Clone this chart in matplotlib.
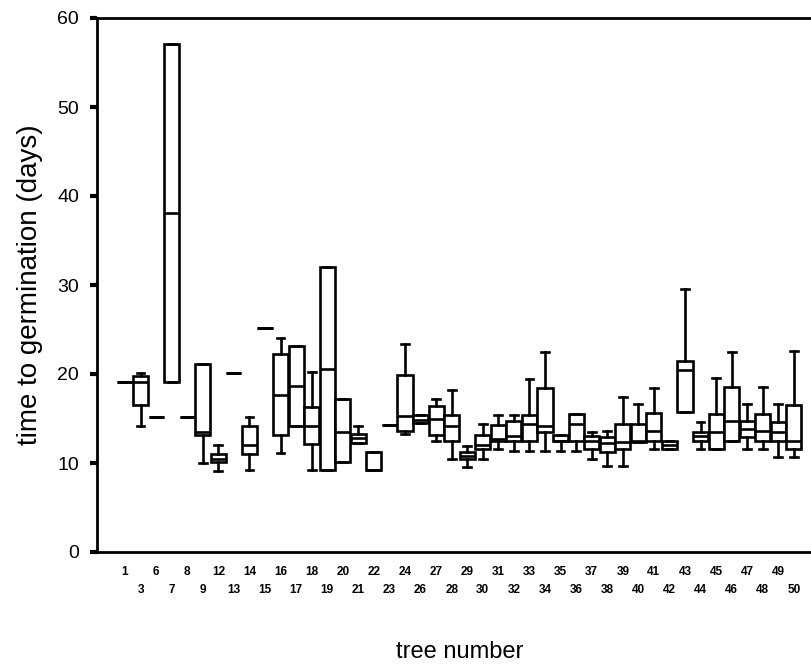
import matplotlib
matplotlib.use("Agg")
import matplotlib.pyplot as plt

plt.rcParams['font.family'] = ['Liberation Sans', 'DejaVu Sans']

# tree numbers and box stats (days)
trees = [1, 3, 6, 7, 8, 9, 12, 13, 14, 15, 16, 17, 18, 19, 20, 21, 22, 23, 24, 26,
         27, 28, 29, 30, 31, 32, 33, 34, 35, 36, 37, 38, 39, 40, 41, 42, 43, 44, 45, 46,
         47, 48, 49, 50]
whis_lo = [19.1, 14.2, 15.2, 19.1, 15.2, 10.0, 9.1, 20.1, 9.2, 25.2, 11.1, 14.2, 9.2, 9.2, 10.1, 12.2, 9.2, 14.3, 13.3, 14.5,
           12.5, 10.4, 9.5, 10.4, 11.6, 11.4, 11.4, 11.4, 11.4, 11.4, 10.4, 9.7, 9.7, 12.4, 11.6, 11.6, 15.7, 11.6, 11.6, 12.5,
           11.6, 11.6, 10.7, 10.7]
q1 = [19.1, 16.5, 15.2, 19.1, 15.2, 13.1, 10.1, 20.1, 11.0, 25.2, 13.1, 14.2, 12.1, 9.2, 10.1, 12.2, 9.2, 14.3, 13.6, 14.5,
      13.2, 12.5, 10.4, 11.6, 12.5, 12.5, 12.5, 13.5, 12.5, 12.5, 11.6, 11.2, 11.6, 12.4, 12.5, 11.6, 15.7, 12.5, 11.6, 12.5,
      12.9, 12.5, 12.5, 11.6]
med = [19.1, 19.1, 15.2, 38.1, 15.2, 13.5, 10.5, 20.1, 12.0, 25.2, 17.6, 18.6, 14.2, 20.6, 13.5, 12.8, 9.2, 14.3, 15.3, 14.8,
       15.0, 14.2, 10.8, 12.0, 12.7, 13.0, 14.4, 14.2, 12.5, 14.4, 12.5, 12.3, 12.4, 12.5, 13.6, 12.0, 20.5, 13.0, 13.5, 14.7,
       13.8, 13.6, 13.5, 12.5]
q3 = [19.1, 19.8, 15.2, 57.1, 15.2, 21.1, 11.0, 20.1, 14.2, 25.2, 22.2, 23.2, 16.3, 32.0, 17.2, 13.3, 11.2, 14.3, 19.9, 15.4,
      16.4, 15.4, 11.2, 13.2, 14.3, 14.7, 15.4, 18.4, 13.2, 15.5, 13.0, 12.9, 14.4, 14.4, 15.6, 12.5, 21.5, 13.5, 15.5, 18.5,
      14.7, 15.5, 14.6, 16.5]
whis_hi = [19.1, 20.1, 15.2, 57.1, 15.2, 21.1, 12.0, 20.1, 15.2, 25.2, 24.0, 23.2, 20.2, 32.0, 17.2, 14.2, 11.2, 14.3, 23.4, 15.4,
           17.2, 18.2, 11.9, 14.4, 15.4, 15.4, 19.4, 22.5, 13.2, 15.5, 13.5, 13.6, 17.4, 16.6, 18.4, 12.5, 29.5, 14.6, 19.5, 22.5,
           16.6, 18.5, 16.6, 22.6]

stats = []
for t, lo, a, m, b, hi in zip(trees, whis_lo, q1, med, q3, whis_hi):
    stats.append({'label': str(t), 'whislo': lo, 'q1': a, 'med': m, 'q3': b, 'whishi': hi})

pos = list(range(len(trees)))

fig = plt.figure(figsize=(8.11, 6.68), dpi=100)
ax = fig.add_axes([97/811, (668-552)/668, (811-97)/811, (552-18)/668])

lw = 1.9
ax.bxp(stats, positions=pos, widths=0.97, showfliers=False, patch_artist=True,
       capwidths=0.5,
       boxprops=dict(facecolor='white', edgecolor='black', linewidth=lw),
       medianprops=dict(color='black', linewidth=lw),
       whiskerprops=dict(color='black', linewidth=lw),
       capprops=dict(color='black', linewidth=lw))

# axes look
ax.set_xlim(-1.8, 44.1)
ax.set_ylim(0, 60)
ax.set_yticks([0, 10, 20, 30, 40, 50, 60])
ax.tick_params(axis='y', direction='out', length=5, width=3, labelsize=14, pad=8)
ax.spines['right'].set_visible(False)
for s in ['left', 'bottom', 'top']:
    ax.spines[s].set_linewidth(2)

# two-row tick labels
labels = [str(t) if i % 2 == 0 else '\n' + str(t) for i, t in enumerate(trees)]
ax.set_xticks(pos)
ax.set_xticklabels(labels, fontsize=8.5, fontweight='bold', linespacing=1.7)
ax.tick_params(axis='x', length=0, pad=10)

ax.set_ylabel('time to germination (days)', fontsize=20)
ax.yaxis.set_label_coords(-0.076, 0.5)
fig.text(460/811, 1 - 652/668, 'tree number', fontsize=17, ha='center', va='center')

fig.savefig('out.png', dpi=100)
